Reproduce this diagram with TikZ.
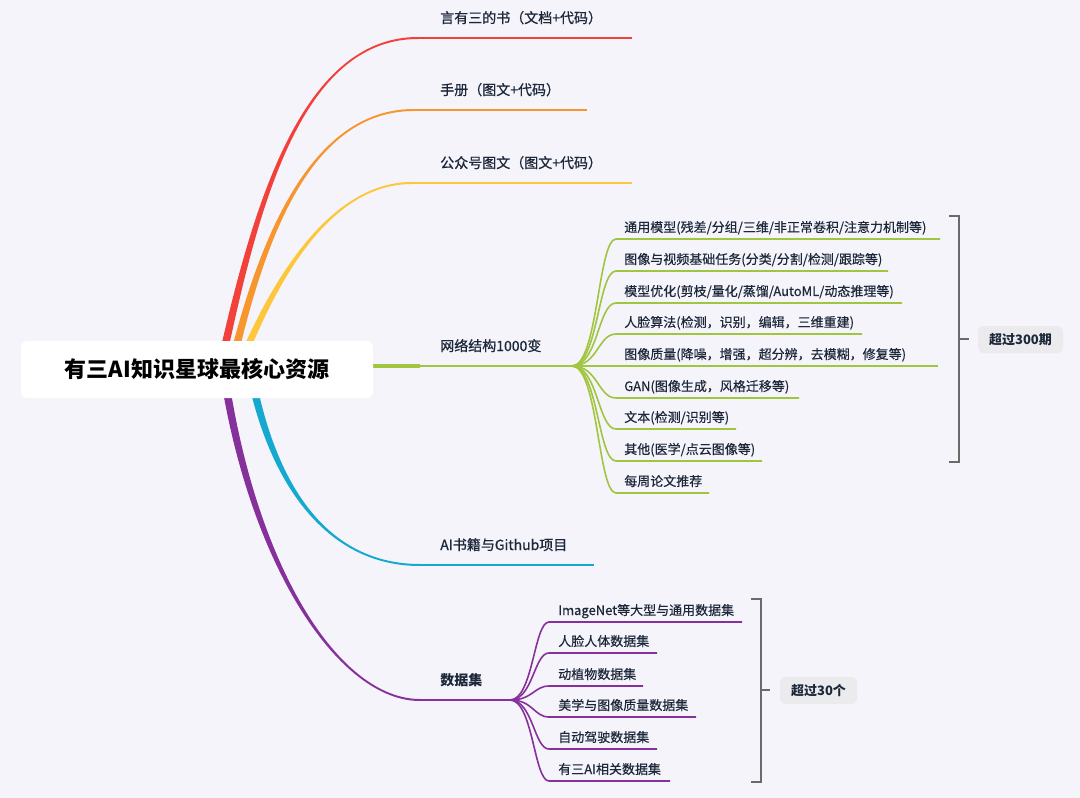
\documentclass[tikz,border=0pt]{standalone}
\usepackage{fontspec}
\setmainfont{Noto Sans CJK SC}
\newfontfamily\medfont[FakeBold=0.8]{Noto Sans CJK SC}
\newfontfamily\subfont[FakeBold=0.3]{Noto Sans CJK SC}
\usetikzlibrary{calc}
\definecolor{bg}{HTML}{F5F4FA}
\definecolor{cred}{HTML}{F2413B}
\definecolor{corange}{HTML}{F7952F}
\definecolor{cyellow}{HTML}{FEC73B}
\definecolor{cgreen}{HTML}{A0C53F}
\definecolor{ccyan}{HTML}{16A9CF}
\definecolor{cpurple}{HTML}{86319B}
\definecolor{txt}{HTML}{1C273A}
\definecolor{brkgray}{HTML}{6A6A6A}
\definecolor{boxbg}{HTML}{EBEBEE}
% tapered main branch: colour, start, control 1, control 2, end, end half-width offset (y)
\newcommand{\taper}[6]{%
  \fill[#1] ($(#2)+(-4,0)$) .. controls ($(#3)+(-3,0)$) and ($(#4)+(0,#6)$) .. ($(#5)+(0,#6)$)
     -- ($(#5)-(0,#6)$) .. controls ($(#4)-(0,#6)$) and ($(#3)+(3,0)$) .. ($(#2)+(4,0)$) -- cycle;}
\begin{document}
\begin{tikzpicture}[x=0.75pt,y=-0.75pt,
  mainlbl/.style={anchor=base west, inner sep=0pt, text=txt, font=\medfont\fontsize{10.5pt}{12pt}\selectfont},
  sublbl/.style={anchor=base west, inner sep=0pt, text=txt, font=\subfont\fontsize{9.75pt}{11pt}\selectfont},
  mainline/.style={line width=1.5pt},
  subline/.style={line width=1.2pt},
  brk/.style={draw=brkgray, line width=1.4pt},
  sumbox/.style={fill=boxbg, rounded corners=4.5pt, text=txt, inner sep=0pt,
     minimum height=20.25pt, font=\fontsize{9.75pt}{11pt}\selectfont\bfseries},
  rootbox/.style={fill=white, rounded corners=4.5pt, text=black, inner sep=0pt,
     minimum width=264pt, minimum height=42.75pt, font=\fontsize{16.5pt}{18pt}\selectfont\bfseries}]
\useasboundingbox (0,0) rectangle (1080,798);
\fill[bg] (0,0) rectangle (1080,798);

% ---------- coordinates of main branches ----------
\coordinate (rS) at (222,360); \coordinate (rE) at (418,38);  \coordinate (rT) at (632,38);
\coordinate (oS) at (233,360); \coordinate (oE) at (414,110); \coordinate (oT) at (587,110);
\coordinate (yS) at (242,360); \coordinate (yE) at (412,183); \coordinate (yT) at (632,183);
\coordinate (cS) at (252,380); \coordinate (cE) at (420,565); \coordinate (cT) at (594,565);
\coordinate (pS) at (225,380); \coordinate (pE) at (420,700); \coordinate (pb) at (510,700);
\coordinate (gS) at (373,366); \coordinate (gM) at (420,366); \coordinate (gb) at (572,366);

% ---------- main branches ----------
\taper{cred}{rS}{255,210}{300,38}{rE}{-1}
\draw[cred, mainline] (rE) -- (rT);
\taper{corange}{oS}{262,240}{310,110}{oE}{-1}
\draw[corange, mainline] (oE) -- (oT);
\taper{cyellow}{yS}{275,280}{330,183}{yE}{-1}
\draw[cyellow, mainline] (yE) -- (yT);
\taper{ccyan}{cS}{275,490}{330,565}{cE}{1}
\draw[ccyan, mainline] (cE) -- (cT);
\taper{cpurple}{pS}{255,570}{340,700}{pE}{1}
\draw[cpurple, mainline] (pE) -- (pb);
\draw[cgreen, line width=2.3pt] (gS) -- (gM);
\draw[cgreen, mainline] (gM) -- (gb);

% ---------- root ----------
\node[rootbox] (root) at (197,369.5) {有三AI知识星球最核心资源};

% ---------- main labels ----------
\node[mainlbl] (l1) at (440,23) {言有三的书（文档+代码）};
\node[mainlbl] (l2) at (440,95) {手册（图文+代码）};
\node[mainlbl] (l3) at (440,168) {公众号图文（图文+代码）};
\node[mainlbl] (l4) at (440,351) {网络结构1000变};
\node[mainlbl] (l5) at (440,550) {AI书籍与Github项目};
\node[mainlbl, font=\fontsize{10.5pt}{12pt}\selectfont\bfseries] (l6) at (440,685) {数据集};

% ---------- green children ----------
\foreach \i/\y/\xe/\t in {
  1/239/940/{通用模型(残差/分组/三维/非正常卷积/注意力机制等)},
  2/271/888/{图像与视频基础任务(分类/分割/检测/跟踪等)},
  3/303/902/{模型优化(剪枝/量化/蒸馏/AutoML/动态推理等)},
  4/334/862/{人脸算法(检测，识别，编辑，三维重建)},
  5/366/938/{图像质量(降噪，增强，超分辨，去模糊，修复等)},
  6/398/799/{GAN(图像生成，风格迁移等)},
  7/429/736/{文本(检测/识别等)},
  8/461/762/{其他(医学/点云图像等)},
  9/493/709/{每周论文推荐}}{
  \coordinate (g\i) at (616,\y);
  \coordinate (ge\i) at (\xe,\y);
  \draw[cgreen, subline] (gb) .. controls +(26,0) and +(-18,0) .. (g\i) -- (ge\i);
  \node[sublbl] (gl\i) at (624,\y-7) {\t};
}

% ---------- purple children ----------
\foreach \i/\y/\xe/\t in {
  1/622/742/{ImageNet等大型与通用数据集},
  2/653/657/{人脸人体数据集},
  3/686/643/{动植物数据集},
  4/717/696/{美学与图像质量数据集},
  5/749/657/{自动驾驶数据集},
  6/781/670/{有三AI相关数据集}}{
  \coordinate (p\i) at (549,\y);
  \coordinate (pe\i) at (\xe,\y);
  \draw[cpurple, subline] (pb) .. controls +(23,0) and +(-15,0) .. (p\i) -- (pe\i);
  \node[sublbl] (pl\i) at (558,\y-7) {\t};
}

% ---------- brackets and summaries ----------
\coordinate (gbt) at (959,216); \coordinate (gbb) at (959,462); \coordinate (gbm) at (959,339);
\draw[brk] ($(gbt)+(-10,0)$) -- (gbt) -- (gbb) -- ($(gbb)+(-10,0)$);
\node[sumbox, minimum width=63.75pt] (s1) at (1020.5,339.5) {超过300期};
\draw[brk] (gbm) -- ++(10,0);

\coordinate (pbt) at (761,599); \coordinate (pbb) at (761,782); \coordinate (pbm) at (761,690);
\draw[brk] ($(pbt)+(-10,0)$) -- (pbt) -- (pbb) -- ($(pbb)+(-10,0)$);
\node[sumbox, minimum width=57.75pt] (s2) at (818.5,690.5) {超过30个};
\draw[brk] (pbm) -- ++(9,0);
\end{tikzpicture}
\end{document}
